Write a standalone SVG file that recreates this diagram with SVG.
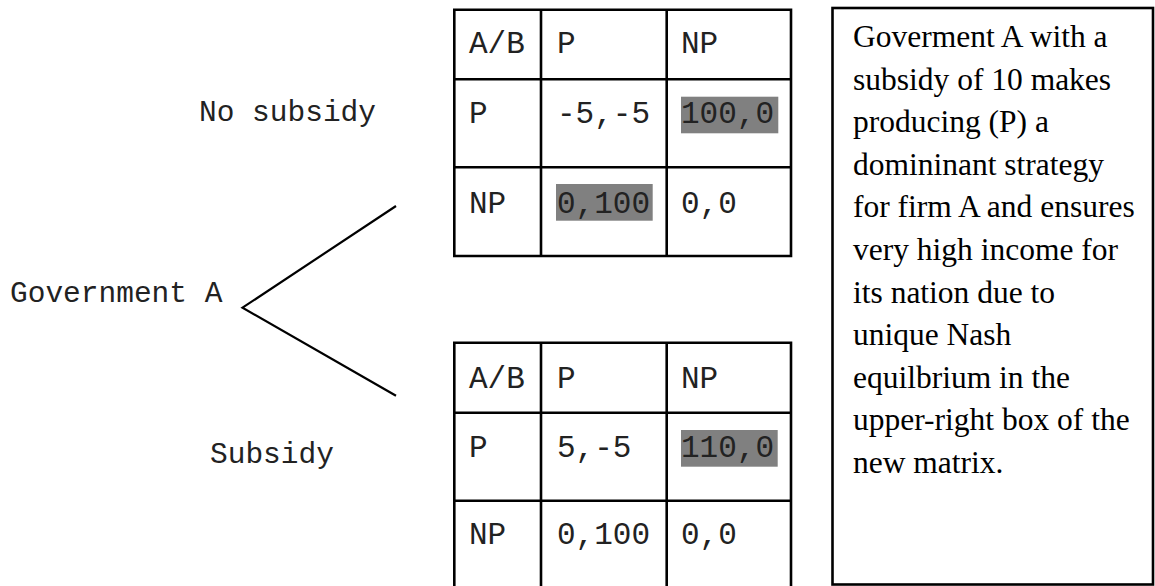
<svg xmlns="http://www.w3.org/2000/svg" width="1155" height="586" viewBox="0 0 1155 586">
<style>
.grid{fill:none;stroke:#000;stroke-width:2.6}
.mono{font-family:"Liberation Mono","Courier New",monospace;font-size:31px;fill:#222}
.lbl{font-family:"Liberation Mono","Courier New",monospace;font-size:29.5px;fill:#222}
.serif{font-family:"Liberation Serif","Times New Roman",serif;font-size:31.5px;fill:#000}
.hl{fill:#808080}
.edge{stroke:#000;stroke-width:2.2;fill:none}
</style>
<rect width="1155" height="586" fill="#fff"/>
<g id="labels">
<text class="lbl" x="199" y="121">No subsidy</text>
<text class="lbl" x="10" y="302">Government A</text>
<text class="lbl" x="210" y="463">Subsidy</text>
</g>
<g id="connectors">
<polyline class="edge" points="396,206 242.5,307.7 396,395.7"/>
</g>
<g id="matrix-no-subsidy">
<rect class="hl" x="681" y="96.7" width="97.3" height="36.6"/>
<rect class="hl" x="556" y="184" width="96.7" height="36.7"/>
<path class="grid" d="M454.3 9.7H791V256H454.3Z M541 9.7V256 M666.7 9.7V256 M454.3 79.3H791 M454.3 167.3H791"/>
<text class="mono" x="469" y="53">A/B</text>
<text class="mono" x="557" y="53">P</text>
<text class="mono" x="681" y="53">NP</text>
<text class="mono" x="469" y="123">P</text>
<text class="mono" x="557" y="123">-5,-5</text>
<text class="mono" x="681" y="123">100,0</text>
<text class="mono" x="469" y="213">NP</text>
<text class="mono" x="557" y="213">0,100</text>
<text class="mono" x="681" y="213">0,0</text>
</g>
<g id="matrix-subsidy">
<rect class="hl" x="681" y="430" width="96.7" height="36.7"/>
<path class="grid" d="M454.3 600V342.7H791V600 M541 342.7V600 M666.7 342.7V600 M454.3 412.7H791 M454.3 500.7H791"/>
<text class="mono" x="469" y="388">A/B</text>
<text class="mono" x="557" y="388">P</text>
<text class="mono" x="681" y="388">NP</text>
<text class="mono" x="469" y="456.5">P</text>
<text class="mono" x="557" y="456.5">5,-5</text>
<text class="mono" x="681" y="456.5">110,0</text>
<text class="mono" x="469" y="544">NP</text>
<text class="mono" x="557" y="544">0,100</text>
<text class="mono" x="681" y="544">0,0</text>
</g>
<g id="note">
<rect class="grid" x="832.5" y="8" width="320.5" height="576.5"/>
<text class="serif">
<tspan x="853" y="47">Goverment A with a</tspan>
<tspan x="853" y="89.6">subsidy of 10 makes</tspan>
<tspan x="853" y="132.2">producing (P) a</tspan>
<tspan x="853" y="174.8">domininant strategy</tspan>
<tspan x="853" y="217.4">for firm A and ensures</tspan>
<tspan x="853" y="260">very high income for</tspan>
<tspan x="853" y="302.6">its nation due to</tspan>
<tspan x="853" y="345.2">unique Nash</tspan>
<tspan x="853" y="387.8">equilbrium in the</tspan>
<tspan x="853" y="430.4">upper-right box of the</tspan>
<tspan x="853" y="473">new matrix.</tspan>
</text>
</g>
</svg>
